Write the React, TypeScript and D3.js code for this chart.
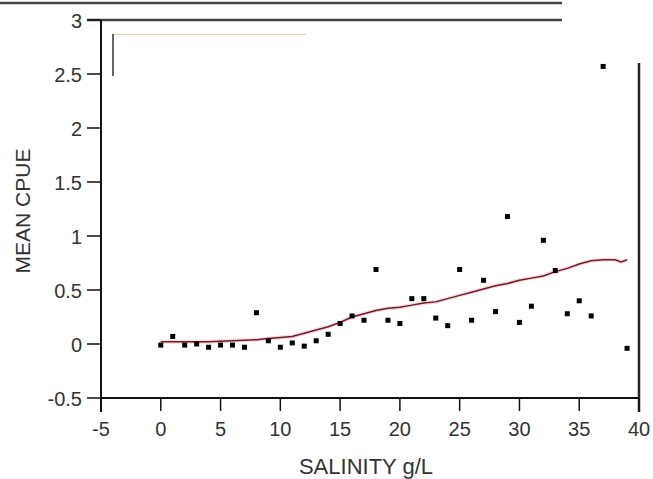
import React from "react";
import * as d3 from "d3";

const salinity = [0, 1, 2, 3, 4, 5, 6, 7, 8, 9, 10, 11, 12, 13, 14, 15, 16, 17, 18, 19, 20, 21, 22, 23, 24, 25, 26, 27, 28, 29, 30, 31, 32, 33, 34, 35, 36, 37, 39];
const meanCpue = [-0.01, 0.07, -0.01, 0.0, -0.03, -0.01, -0.01, -0.03, 0.29, 0.03, -0.03, 0.01, -0.02, 0.03, 0.09, 0.19, 0.26, 0.22, 0.69, 0.22, 0.19, 0.42, 0.42, 0.24, 0.17, 0.69, 0.22, 0.59, 0.3, 1.18, 0.2, 0.35, 0.96, 0.68, 0.28, 0.4, 0.26, 2.57, -0.04];

const smoothX = [0, 2, 4, 6, 8, 9, 10, 11, 12, 13, 14, 15, 16, 17, 18, 19, 20, 21, 22, 23, 24, 25, 26, 27, 28, 29, 30, 31, 32, 33, 34, 35, 36, 37, 38, 38.5, 39];
const smoothY = [0.02, 0.02, 0.02, 0.03, 0.04, 0.05, 0.06, 0.07, 0.1, 0.13, 0.16, 0.2, 0.25, 0.28, 0.31, 0.33, 0.34, 0.36, 0.38, 0.39, 0.42, 0.45, 0.48, 0.51, 0.54, 0.56, 0.59, 0.61, 0.63, 0.67, 0.7, 0.74, 0.77, 0.78, 0.78, 0.76, 0.78];

const xTicks = [-5, 0, 5, 10, 15, 20, 25, 30, 35, 40];
const yTicks = [-0.5, 0, 0.5, 1, 1.5, 2, 2.5, 3];

export default function App() {
  const W = 653, H = 479;
  const x = d3.scaleLinear().domain([-5, 40]).range([101, 639]);
  const y = d3.scaleLinear().domain([-0.5, 3]).range([398, 20]);
  const line = d3.line<number>().x((_, i) => x(smoothX[i])).y((d) => y(d)).curve(d3.curveLinear);
  const fontFamily = "Liberation Sans, Arial, sans-serif";
  return (
    <svg width={W} height={H} style={{ position: "absolute", left: 0, top: 0, background: "#fff" }} fontFamily={fontFamily}>
      <rect x={0} y={0} width={W} height={H} fill="#fff" />
      {/* frame lines at top */}
      <line x1={0} x2={562} y1={3} y2={3} stroke="#444" strokeWidth={2.5} />
      <line x1={87} x2={562} y1={20} y2={20} stroke="#444" strokeWidth={2.5} />
      {/* legend box remnants */}
      <line x1={113} x2={306} y1={34.5} y2={34.5} stroke="#e0d6a8" strokeWidth={1} />
      <line x1={113} x2={113} y1={34} y2={76} stroke="#333" strokeWidth={1.5} />
      {/* axes */}
      <line x1={x(-5)} x2={x(-5)} y1={20} y2={412} stroke="#111" strokeWidth={2} />
      <line x1={x(-5)} x2={x(40)} y1={y(-0.5)} y2={y(-0.5)} stroke="#111" strokeWidth={2} />
      <line x1={x(40)} x2={x(40)} y1={63} y2={412} stroke="#222" strokeWidth={2.5} />
      {xTicks.map((t) => (
        <g key={"x" + t}>
          <line x1={x(t)} x2={x(t)} y1={y(-0.5)} y2={411} stroke="#111" strokeWidth={1.5} />
          <text x={x(t)} y={436} textAnchor="middle" fontSize={20} fill="#333">{t}</text>
        </g>
      ))}
      {yTicks.map((t) => (
        <g key={"y" + t}>
          <line x1={87} x2={x(-5)} y1={y(t)} y2={y(t)} stroke="#111" strokeWidth={1.5} />
          <text x={82} y={y(t) + 7.5} textAnchor="end" fontSize={20} fill="#333">{t}</text>
        </g>
      ))}
      {/* smooth line */}
      <path d={line(smoothY) || ""} fill="none" stroke="#f4b8c0" strokeWidth={4} opacity={0.5} />
      <path d={line(smoothY) || ""} fill="none" stroke="#6e1a28" strokeWidth={1.5} />
      {/* points */}
      {salinity.map((s, i) => (
        <rect key={"p" + i} x={x(s) - 2.5} y={y(meanCpue[i]) - 2.5} width={5} height={5} fill="#000" />
      ))}
      <text x={366} y={474} textAnchor="middle" fontSize={22} fill="#333">SALINITY g/L</text>
      <text transform={`translate(30,211) rotate(-90)`} textAnchor="middle" fontSize={21} fill="#333">MEAN CPUE</text>
    </svg>
  );
}
